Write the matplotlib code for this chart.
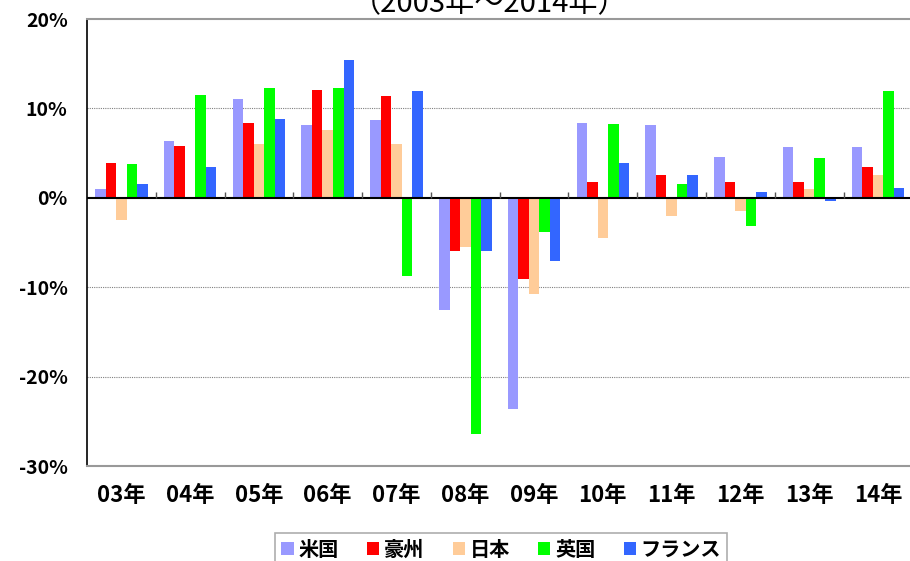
import matplotlib
matplotlib.use('Agg')
import matplotlib.pyplot as plt
import numpy as np

plt.rcParams['font.family'] = ['Noto Sans CJK JP', 'DejaVu Sans']

years = ['03年', '04年', '05年', '06年', '07年', '08年', '09年', '10年', '11年', '12年', '13年', '14年']
series = ['米国', '豪州', '日本', '英国', 'フランス']
usa = [1.0, 6.4, 11.1, 8.2, 8.7, -12.6, -23.6, 8.4, 8.1, 4.6, 5.7, 5.7]
aus = [3.9, 5.8, 8.4, 12.1, 11.4, -6.0, -9.1, 1.8, 2.6, 1.8, 1.8, 3.4]
jpn = [-2.5, 0.0, 6.0, 7.6, 6.0, -5.5, -10.8, -4.5, -2.0, -1.5, 1.0, 2.6]
uk = [3.8, 11.5, 12.3, 12.3, -8.7, -26.4, -3.8, 8.3, 1.6, -3.1, 4.4, 11.9]
fra = [1.6, 3.5, 8.8, 15.4, 11.9, -6.0, -7.1, 3.9, 2.6, 0.6, -0.3, 1.1]
colors = ['#9999FF', '#FF0000', '#FFCC99', '#00FF00', '#3366FF']

fig = plt.figure(figsize=(9.1, 5.61), dpi=100)
ax = fig.add_axes([0.0956, 0.1693, 0.907, 0.7968])

x = np.arange(len(years))
w = 0.153
for i, (vals, name, c) in enumerate(zip([usa, aus, jpn, uk, fra], series, colors)):
    ax.bar(x + (i - 2) * w, vals, w, color=c, label=name, zorder=3)

ax.set_xlim(-0.5, len(years) - 0.5)
ax.set_ylim(-30, 20)
ax.set_yticks([-30, -20, -10, 0, 10, 20])
ax.set_yticklabels(['-30%', '-20%', '-10%', '0%', '10%', '20%'])
ax.set_xticks(x)
ax.set_xticklabels(years)
ax.tick_params(axis='y', length=0, pad=14, labelsize=14)
ax.tick_params(axis='x', length=0, pad=13, labelsize=16)
for lbl in ax.get_xticklabels() + ax.get_yticklabels():
    lbl.set_fontweight('bold')

for yv in [10, -10, -20]:
    ax.axhline(yv, color='#808080', lw=0.8, ls=(0, (1, 1)), zorder=1)
ax.axhline(0, color='black', lw=1.5, zorder=4)
# small separator ticks on the zero line
ax.vlines(x[:-1] + 0.5, 0, 0.6, color='#555555', lw=1, zorder=4)

ax.spines['left'].set_color('black')
ax.spines['left'].set_linewidth(1.2)
ax.spines['top'].set_color('#999999')
ax.spines['top'].set_linewidth(1.5)
ax.spines['bottom'].set_color('#999999')
ax.spines['bottom'].set_linewidth(1.5)
ax.spines['right'].set_visible(False)

fig.text(0.538, 0.979, '（2003年～2014年）', ha='center', va='baseline', fontsize=21)

leg = fig.legend(loc='upper center', bbox_to_anchor=(0.551, 0.05), ncol=5,
                 frameon=True, fancybox=False, handlelength=0.6, handleheight=0.6,
                 handletextpad=0.25, columnspacing=1.4, borderpad=0.3, borderaxespad=0,
                 prop={'weight': 'bold', 'size': 14.5})
leg.get_frame().set_edgecolor('#999999')
leg.get_frame().set_linewidth(1.2)

fig.savefig('out.png', dpi=100)
